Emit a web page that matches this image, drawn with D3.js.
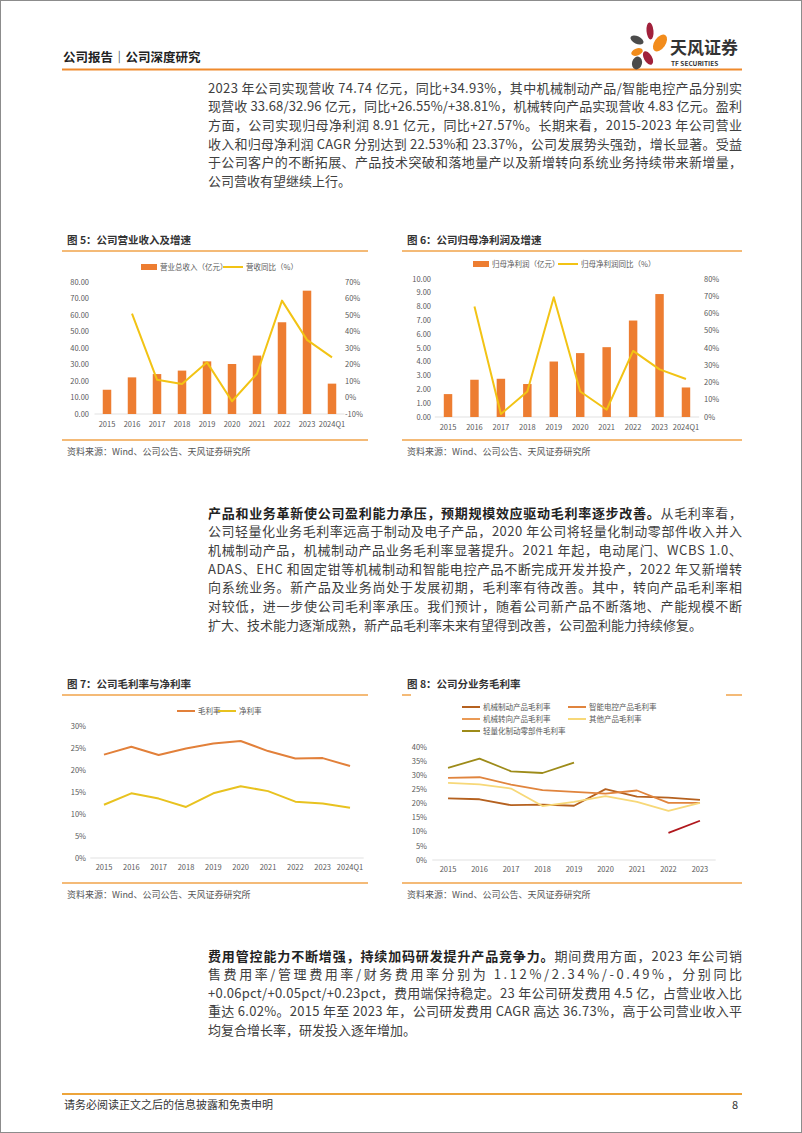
<!DOCTYPE html>
<html>
<head>
<meta charset="utf-8">
<script src="https://cdn.jsdelivr.net/npm/d3@7"></script>
<style>
  body { margin: 0; background: #fff; }
  svg { display: block; }
  text { font-family: "Noto Sans CJK SC", "Noto Sans", sans-serif; }
</style>
</head>
<body>
<div id="page"></div>
<script>
// -----------------------------
// DATA
// -----------------------------
const years10 = ["2015", "2016", "2017", "2018", "2019", "2020", "2021", "2022", "2023", "2024Q1"];
const years9 = ["2015", "2016", "2017", "2018", "2019", "2020", "2021", "2022", "2023"];

// 图5
const revenue    = [14.7, 22.2, 24.2, 26.3, 31.9, 30.3, 35.4, 55.6, 74.74, 18.4];
const revenueYoY = [null, 50.8, 10.8, 8.2, 21.3, -2.3, 14.4, 58.7, 34.93, 24.3];
const revTicksL  = [0, 10, 20, 30, 40, 50, 60, 70, 80];
const revTicksR  = [-10, 0, 10, 20, 30, 40, 50, 60, 70];

// 图6
const netProfit    = [1.66, 2.70, 2.77, 2.39, 4.02, 4.63, 5.06, 6.99, 8.91, 2.14];
const netProfitYoY = [null, 64.0, 1.7, 14.8, 69.4, 14.8, 4.2, 38.3, 27.6, 22.0];
const npTicksL = [0, 1, 2, 3, 4, 5, 6, 7, 8, 9, 10];
const npTicksR = [0, 10, 20, 30, 40, 50, 60, 70, 80];

// 图7
const grossMargin = [23.5, 25.3, 23.4, 24.9, 26.0, 26.6, 24.3, 22.6, 22.7, 20.9];
const netMargin   = [12.1, 14.7, 13.5, 11.6, 14.7, 16.3, 15.2, 12.8, 12.4, 11.4];
const marginTicks = [0, 5, 10, 15, 20, 25, 30];

// 图8
const brakeMargin    = [21.8, 21.5, 19.4, 19.6, 19.2, 25.1, 22.4, 22.1, 21.3];
const controlMargin  = [29.1, 29.3, 26.7, 24.7, 24.1, 23.5, 24.6, 20.2, 20.2];
const steerMargin    = [null, null, null, null, null, null, null, 9.6, 13.9];
const otherMargin    = [27.3, 26.8, 25.3, 19.1, 20.6, 22.6, 20.6, 17.4, 20.2];
const lightMargin    = [32.6, 35.9, 31.4, 30.8, 34.5, null, null, null, null];
const segTicks = [0, 5, 10, 15, 20, 25, 30, 35, 40];

// -----------------------------
// TEXT
// -----------------------------
const para1 = [
  [["2023 年公司实现营收 74.74 亿元，同比+34.93%，其中机械制动产品/智能电控产品分别实", 0]],
  [["现营收 33.68/32.96 亿元，同比+26.55%/+38.81%，机械转向产品实现营收 4.83 亿元。盈利", 0]],
  [["方面，公司实现归母净利润 8.91 亿元，同比+27.57%。长期来看，2015-2023 年公司营业", 0]],
  [["收入和归母净利润 CAGR 分别达到 22.53%和 23.37%，公司发展势头强劲，增长显著。受益", 0]],
  [["于公司客户的不断拓展、产品技术突破和落地量产以及新增转向系统业务持续带来新增量，", 0]],
  [["公司营收有望继续上行。", 0]]
];
const para2 = [
  [["产品和业务革新使公司盈利能力承压，预期规模效应驱动毛利率逐步改善。", 1], ["从毛利率看，", 0]],
  [["公司轻量化业务毛利率远高于制动及电子产品，2020 年公司将轻量化制动零部件收入并入", 0]],
  [["机械制动产品，机械制动产品业务毛利率显著提升。2021 年起，电动尾门、WCBS 1.0、", 0]],
  [["ADAS、EHC 和固定钳等机械制动和智能电控产品不断完成开发并投产，2022 年又新增转", 0]],
  [["向系统业务。新产品及业务尚处于发展初期，毛利率有待改善。其中，转向产品毛利率相", 0]],
  [["对较低，进一步使公司毛利率承压。我们预计，随着公司新产品不断落地、产能规模不断", 0]],
  [["扩大、技术能力逐渐成熟，新产品毛利率未来有望得到改善，公司盈利能力持续修复。", 0]]
];
const para3 = [
  [["费用管控能力不断增强，持续加码研发提升产品竞争力。", 1], ["期间费用方面，2023 年公司销", 0]],
  [["售费用率/管理费用率/财务费用率分别为 1.12%/2.34%/-0.49%，分别同比", 0]],
  [["+0.06pct/+0.05pct/+0.23pct，费用端保持稳定。23 年公司研发费用 4.5 亿，占营业收入比", 0]],
  [["重达 6.02%。2015 年至 2023 年，公司研发费用 CAGR 高达 36.73%，高于公司营业收入平", 0]],
  [["均复合增长率，研发投入逐年增加。", 0]]
];

const W = 802, H = 1133;
const ORANGE_LINE = "#f0a34a";
const BAR = "#ed7d31";
const GOLD = "#f2c314";
const AXIS_TXT = "#595959";

const svg = d3.select("#page").append("svg")
  .attr("width", W).attr("height", H);

svg.append("rect").attr("x", 0.5).attr("y", 0.5).attr("width", W - 1).attr("height", H - 1)
  .attr("fill", "#fff").attr("stroke", "#8c8c8c");

// -----------------------------
// HEADER / FOOTER
// -----------------------------
svg.append("text").attr("x", 63).attr("y", 62)
  .attr("font-size", 12.5).attr("font-weight", "bold").attr("fill", "#222")
  .text("公司报告｜公司深度研究");

svg.append("line").attr("x1", 62).attr("x2", 742).attr("y1", 69.5).attr("y2", 69.5)
  .attr("stroke", "#ef8a2c").attr("stroke-width", 2);

// logo
const logo = svg.append("g");
const petals = [
  [637, 40, 7, 3.8, 25, "#4b4b4b"],
  [650, 31, 3.5, 8.5, -5, "#a1213b"],
  [660, 43, 5.5, 9.5, 35, "#f28c1c"],
  [637, 52, 6, 3.5, -20, "#f28c1c"],
  [648, 58, 4, 7.5, -30, "#a1213b"],
  [637, 63, 5, 6.5, 15, "#4b4b4b"]
];
petals.forEach(([cx, cy, rx, ry, a, c]) => {
  logo.append("ellipse").attr("cx", cx).attr("cy", cy).attr("rx", rx).attr("ry", ry)
    .attr("transform", `rotate(${a},${cx},${cy})`).attr("fill", c);
});
svg.append("text").attr("x", 670).attr("y", 54)
  .attr("font-size", 17).attr("font-weight", "bold").attr("fill", "#333")
  .text("天风证券");
svg.append("text").attr("x", 671).attr("y", 65.5)
  .attr("font-size", 6.5).attr("font-weight", "bold").attr("fill", "#333")
  .attr("font-family", "Roboto, sans-serif")
  .text("TF SECURITIES");

svg.append("line").attr("x1", 62).attr("x2", 742).attr("y1", 1094).attr("y2", 1094)
  .attr("stroke", "#eda43a").attr("stroke-width", 2);
svg.append("text").attr("x", 64).attr("y", 1109)
  .attr("font-size", 11).attr("fill", "#333")
  .text("请务必阅读正文之后的信息披露和免责申明");
svg.append("text").attr("x", 738).attr("y", 1109).attr("text-anchor", "end")
  .attr("font-size", 11).attr("fill", "#333").text("8");

// -----------------------------
// PARAGRAPHS (justified lines)
// -----------------------------
function paragraph(lines, x, y0, lh, width) {
  lines.forEach((segs, i) => {
    const t = svg.append("text").attr("x", x).attr("y", y0 + i * lh)
      .attr("dy", "0.36em").attr("font-size", 13).attr("fill", "#404040");
    segs.forEach(([s, b]) => {
      t.append("tspan").attr("font-weight", b ? "bold" : "normal")
        .attr("fill", b ? "#222" : "#404040").text(s);
    });
    if (i < lines.length - 1) {
      t.attr("textLength", width).attr("lengthAdjust", "spacing");
    }
  });
}
paragraph(para1, 208, 88, 18.7, 534);
paragraph(para2, 208, 513, 18.7, 534);
paragraph(para3, 208, 956, 18.6, 534);

// -----------------------------
// CHART FRAME
// -----------------------------
function frame(x1, x2, yTitle, yBottom, title, stubs) {
  svg.append("text").attr("x", x1 + 5).attr("y", yTitle).attr("dy", "0.36em")
    .attr("font-size", 10.5).attr("font-weight", "bold").attr("fill", "#333").text(title);
  const yl = yTitle + 11;
  if (stubs) {
    stubs.forEach(([a, b]) => svg.append("line").attr("x1", a).attr("x2", b)
      .attr("y1", yl).attr("y2", yl).attr("stroke", ORANGE_LINE).attr("stroke-width", 1.5));
  } else {
    svg.append("line").attr("x1", x1).attr("x2", x2).attr("y1", yl).attr("y2", yl)
      .attr("stroke", ORANGE_LINE).attr("stroke-width", 1.5);
  }
  svg.append("line").attr("x1", x1).attr("x2", x2).attr("y1", yBottom).attr("y2", yBottom)
    .attr("stroke", ORANGE_LINE).attr("stroke-width", 1.5);
  svg.append("text").attr("x", x1 + 5).attr("y", yBottom + 12).attr("dy", "0.36em")
    .attr("font-size", 9).attr("fill", "#555").text("资料来源：Wind、公司公告、天风证券研究所");
}

function leftAxis(g, y, ticks, xr, fmt) {
  g.append("g").selectAll("text").data(ticks).join("text")
    .attr("x", xr).attr("y", d => y(d)).attr("dy", "0.35em").attr("text-anchor", "end")
    .attr("font-size", 7.5).attr("fill", AXIS_TXT).text(fmt);
}
function rightAxis(g, y, ticks, xl, fmt) {
  g.append("g").selectAll("text").data(ticks).join("text")
    .attr("x", xl).attr("y", d => y(d)).attr("dy", "0.35em")
    .attr("font-size", 7.5).attr("fill", AXIS_TXT).text(fmt);
}
function xLabels(g, x, cats, yb) {
  g.append("g").selectAll("text").data(cats).join("text")
    .attr("x", d => x(d) + x.bandwidth() / 2).attr("y", yb).attr("dy", "0.35em")
    .attr("text-anchor", "middle").attr("font-size", 7.5).attr("fill", AXIS_TXT).text(d => d);
}
function legendBar(g, x, y, label) {
  g.append("rect").attr("x", x).attr("y", y - 3).attr("width", 16).attr("height", 6).attr("fill", BAR);
  g.append("text").attr("x", x + 19).attr("y", y).attr("dy", "0.35em")
    .attr("font-size", 7.5).attr("fill", AXIS_TXT).text(label);
}
function legendLine(g, x, y, color, label, len) {
  g.append("line").attr("x1", x).attr("x2", x + (len || 18)).attr("y1", y).attr("y2", y)
    .attr("stroke", color).attr("stroke-width", 2);
  g.append("text").attr("x", x + (len || 18) + 3).attr("y", y).attr("dy", "0.35em")
    .attr("font-size", 7.5).attr("fill", AXIS_TXT).text(label);
}

// -----------------------------
// BAR + LINE CHARTS
// -----------------------------
function barLine(cfg) {
  const g = svg.append("g");
  const x = d3.scaleBand().domain(cfg.cats).range(cfg.xr).padding(0);
  const yL = d3.scaleLinear().domain(cfg.dl).range(cfg.yr);
  const yR = d3.scaleLinear().domain(cfg.dr).range(cfg.yr);
  const bw = x.bandwidth() * cfg.barRatio;

  g.append("line").attr("x1", cfg.xr[0]).attr("x2", cfg.xr[1])
    .attr("y1", yL(0)).attr("y2", yL(0)).attr("stroke", "#d9d9d9").attr("stroke-width", 0.8);

  g.selectAll("rect.bar").data(cfg.bars).join("rect").attr("class", "bar")
    .attr("x", (d, i) => x(cfg.cats[i]) + (x.bandwidth() - bw) / 2)
    .attr("y", d => yL(d)).attr("width", bw).attr("height", d => yL(0) - yL(d))
    .attr("fill", BAR);

  const line = d3.line()
    .defined(d => d != null)
    .x((d, i) => x(cfg.cats[i]) + x.bandwidth() / 2)
    .y(d => yR(d));
  g.append("path").datum(cfg.line).attr("d", line)
    .attr("fill", "none").attr("stroke", GOLD).attr("stroke-width", 2)
    .attr("stroke-linejoin", "round");

  leftAxis(g, yL, cfg.ticksL, cfg.axL, cfg.fmtL);
  rightAxis(g, yR, cfg.ticksR, cfg.axR, d => d + "%");
  xLabels(g, x, cfg.cats, cfg.yX);
  legendBar(g, cfg.leg[0], cfg.leg[2], cfg.legLabels[0]);
  legendLine(g, cfg.leg[1], cfg.leg[2], GOLD, cfg.legLabels[1], 20);
}

frame(62, 368, 240, 440, "图 5：公司营业收入及增速");
barLine({
  cats: years10, xr: [94.5, 344.5], yr: [414, 282],
  dl: [0, 80], dr: [-10, 70], bars: revenue, line: revenueYoY, barRatio: 0.34,
  ticksL: revTicksL, ticksR: revTicksR, fmtL: d3.format(".2f"),
  axL: 89, axR: 345, yX: 424,
  leg: [141, 223, 267], legLabels: ["营业总收入（亿元）", "营收同比（%）"]
});

frame(402, 742, 240, 440, "图 6：公司归母净利润及增速");
barLine({
  cats: years10, xr: [434.8, 699.2], yr: [417, 279],
  dl: [0, 10], dr: [0, 80], bars: netProfit, line: netProfitYoY, barRatio: 0.32,
  ticksL: npTicksL, ticksR: npTicksR, fmtL: d3.format(".2f"),
  axL: 431, axR: 704, yX: 427,
  leg: [473, 558, 264], legLabels: ["归母净利润（亿元）", "归母净利润同比（%）"]
});

// -----------------------------
// LINE CHARTS
// -----------------------------
function lines(cfg) {
  const g = svg.append("g");
  const x = d3.scaleBand().domain(cfg.cats).range(cfg.xr).padding(0);
  const y = d3.scaleLinear().domain(cfg.dom).range(cfg.yr);

  g.append("line").attr("x1", cfg.xr[0]).attr("x2", cfg.xr[1])
    .attr("y1", y(0)).attr("y2", y(0)).attr("stroke", "#d9d9d9").attr("stroke-width", 0.8);

  const line = d3.line()
    .defined(d => d != null)
    .x((d, i) => x(cfg.cats[i]) + x.bandwidth() / 2)
    .y(d => y(d));

  cfg.series.forEach(s => {
    g.append("path").datum(s.values).attr("d", line)
      .attr("fill", "none").attr("stroke", s.color).attr("stroke-width", cfg.lw)
      .attr("stroke-linejoin", "round");
  });

  leftAxis(g, y, cfg.ticks, cfg.axL, d => d + "%");
  xLabels(g, x, cfg.cats, cfg.yX);
  cfg.series.forEach(s => legendLine(g, s.lx, s.ly, s.legColor || s.color, s.name, 18));
}

frame(62, 368, 684, 883, "图 7：公司毛利率与净利率");
lines({
  cats: years10, xr: [90.3, 363.7], yr: [858, 726], dom: [0, 30], lw: 2,
  ticks: marginTicks, axL: 86, yX: 867,
  series: [
    { name: "毛利率", values: grossMargin, color: "#e2803a", lx: 177, ly: 711 },
    { name: "净利率", values: netMargin, color: "#e8c21f", lx: 218, ly: 711 }
  ]
});

frame(402, 742, 684, 883, "图 8：公司分业务毛利率", [[402, 411], [726, 742]]);
lines({
  cats: years9, xr: [432.3, 715.7], yr: [860, 747], dom: [0, 40], lw: 1.8,
  ticks: segTicks, axL: 427, yX: 869,
  series: [
    { name: "机械制动产品毛利率", values: brakeMargin, color: "#b5611f", lx: 462, ly: 707 },
    { name: "智能电控产品毛利率", values: controlMargin, color: "#e0843d", lx: 568, ly: 707 },
    { name: "机械转向产品毛利率", values: steerMargin, color: "#b0171c", legColor: "#ea9a55", lx: 462, ly: 719 },
    { name: "其他产品毛利率", values: otherMargin, color: "#f7d878", lx: 568, ly: 719 },
    { name: "轻量化制动零部件毛利率", values: lightMargin, color: "#9d8b19", lx: 462, ly: 731 }
  ]
});
</script>
</body>
</html>
